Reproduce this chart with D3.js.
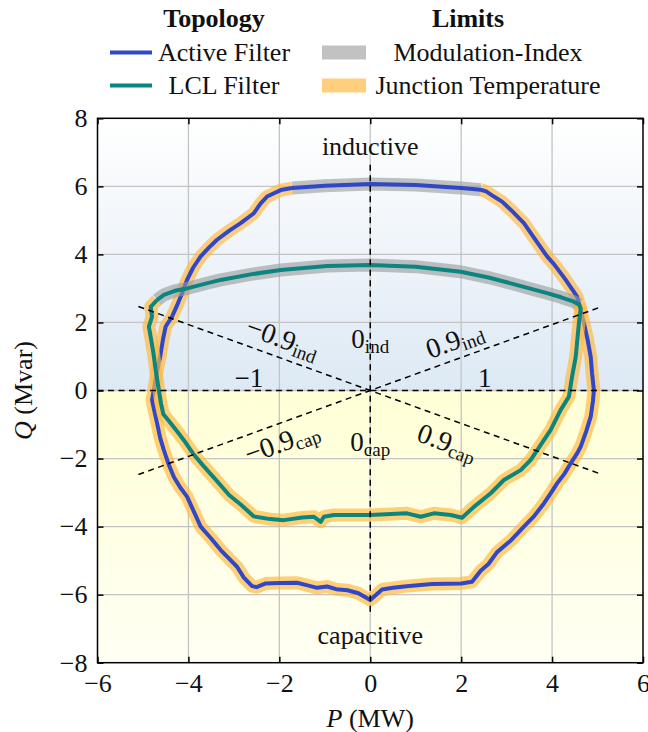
<!DOCTYPE html>
<html>
<head>
<meta charset="utf-8">
<script src="https://cdn.jsdelivr.net/npm/d3@7"></script>
<style>
  body { margin: 0; background: #fff; }
  svg text { font-family: "Liberation Serif", "DejaVu Serif", serif; fill: #111; }
</style>
</head>
<body>
<svg id="chart" width="648" height="732"></svg>
<script>
// axis ticks
const pTicks = [-6, -4, -2, 0, 2, 4, 6];
const qTicks = [-8, -6, -4, -2, 0, 2, 4, 6, 8];

// legend entries
const topologyNames = ["Active Filter", "LCL Filter"];
const limitNames = ["Modulation-Index", "Junction Temperature"];

// Active filter: part limited by modulation index (top arc, left -> right)
const activeMod = [[-1.72, 5.95], [-1.0, 6.02], [0, 6.07], [1.0, 6.04], [2.0, 5.95], [2.43, 5.9]];
// Active filter: part limited by junction temperature (from top-left, round the bottom, to top-right)
const activeTemp = [
  [-1.72, 5.95], [-1.97, 5.89], [-2.27, 5.70], [-2.41, 5.50], [-2.56, 5.21], [-2.85, 4.92],
  [-3.10, 4.70], [-3.37, 4.43], [-3.55, 4.20], [-3.73, 3.94], [-3.90, 3.60], [-4.03, 3.25],
  [-4.14, 2.86], [-4.25, 2.50], [-4.36, 2.17], [-4.50, 1.88], [-4.56, 1.50], [-4.62, 1.00],
  [-4.70, 0.50], [-4.75, 0.10], [-4.80, -0.28], [-4.75, -0.60], [-4.69, -0.96], [-4.62, -1.40],
  [-4.54, -1.75], [-4.44, -2.15], [-4.32, -2.54], [-4.18, -2.85], [-4.03, -3.12], [-3.90, -3.50],
  [-3.73, -4.00], [-3.50, -4.35], [-3.29, -4.69], [-3.10, -4.95], [-2.93, -5.18], [-2.78, -5.50],
  [-2.60, -5.75], [-2.50, -5.78], [-2.30, -5.67], [-2.00, -5.66], [-1.61, -5.65], [-1.40, -5.72],
  [-1.17, -5.80], [-0.95, -5.76], [-0.75, -5.84], [-0.50, -5.87], [-0.26, -5.96], [0, -6.16],
  [0.26, -5.85], [0.50, -5.80], [0.80, -5.75], [1.36, -5.69], [2.00, -5.67], [2.24, -5.62],
  [2.43, -5.30], [2.60, -5.10], [2.79, -4.75], [3.10, -4.40], [3.38, -4.00], [3.60, -3.70],
  [3.82, -3.32], [3.98, -3.00], [4.11, -2.73], [4.27, -2.45], [4.41, -2.14], [4.55, -1.85],
  [4.63, -1.65], [4.75, -1.20], [4.85, -0.77], [4.90, -0.30], [4.92, 0.01], [4.88, 0.50],
  [4.85, 0.99], [4.78, 1.50], [4.70, 1.98], [4.62, 2.40], [4.55, 2.76], [4.48, 2.90],
  [4.30, 3.25], [4.19, 3.45], [4.05, 3.70], [3.89, 3.94], [3.65, 4.40], [3.38, 4.92],
  [3.10, 5.30], [2.90, 5.55], [2.72, 5.70], [2.55, 5.85], [2.43, 5.9]
];

// LCL filter: modulation-index part (upper arc, left -> right)
const lclMod = [
  [-4.69, 2.66], [-4.54, 2.81], [-4.30, 2.93], [-4.03, 3.00], [-3.60, 3.15], [-3.29, 3.25],
  [-2.60, 3.42], [-1.97, 3.54], [-0.95, 3.66], [0, 3.69], [1.00, 3.64], [1.99, 3.49],
  [2.60, 3.32], [3.09, 3.15], [3.50, 3.00], [3.89, 2.86], [4.20, 2.74], [4.48, 2.61], [4.60, 2.52]
];
// LCL filter: junction-temperature part (from upper-left, round the bottom, to upper-right)
const lclTemp = [
  [-4.69, 2.66], [-4.83, 2.46], [-4.80, 2.17], [-4.87, 1.88], [-4.83, 1.58], [-4.77, 1.10],
  [-4.72, 0.60], [-4.65, 0.01], [-4.60, -0.40], [-4.55, -0.70], [-4.39, -0.96], [-4.25, -1.20],
  [-4.10, -1.46], [-3.90, -1.85], [-3.68, -2.20], [-3.40, -2.62], [-3.10, -3.08], [-2.85, -3.35],
  [-2.56, -3.70], [-2.20, -3.78], [-1.90, -3.81], [-1.50, -3.73], [-1.24, -3.71], [-1.09, -3.86],
  [-1.02, -3.71], [-0.80, -3.66], [0, -3.66], [0.81, -3.61], [1.11, -3.71], [1.40, -3.61],
  [1.77, -3.66], [2.02, -3.74], [2.28, -3.42], [2.65, -3.02], [2.94, -2.63], [3.31, -2.34],
  [3.53, -2.04], [3.82, -1.46], [3.97, -1.16], [4.19, -0.57], [4.37, -0.18], [4.44, 0.41],
  [4.52, 0.99], [4.59, 1.98], [4.63, 2.40], [4.60, 2.52]
];

// power-factor reference lines (P, Q end points)
const pfLines = [
  [[-5.1, 2.47], [5.1, -2.47]],
  [[-5.1, -2.47], [5.1, 2.47]],
  [[-6, 0], [6, 0]],
  [[0, -6.5], [0, 6.75]]
];

const colors = {
  active: "#3047c8", lcl: "#0a8580",
  mod: "#9a9a9a", temp: "#ffb840",
  grid: "#c4c4c4"
};

const svg = d3.select("#chart");
const mLeft = 97.5, mRight = 643, mTop = 118.3, mBottom = 662.7;
const x = d3.scaleLinear().domain([-6, 6]).range([mLeft, mRight]);
const y = d3.scaleLinear().domain([-8, 8]).range([mBottom, mTop]);

// background gradients (inductive half bluish, capacitive half yellowish)
const defs = svg.append("defs");
let g1 = defs.append("linearGradient").attr("id", "bgInd")
  .attr("x1", 0).attr("y1", 0).attr("x2", 0).attr("y2", 1);
g1.append("stop").attr("offset", 0).attr("stop-color", "#ffffff");
g1.append("stop").attr("offset", 1).attr("stop-color", "#dde9f4");
let g2 = defs.append("linearGradient").attr("id", "bgCap")
  .attr("x1", 0).attr("y1", 0).attr("x2", 0).attr("y2", 1);
g2.append("stop").attr("offset", 0).attr("stop-color", "#ffffd6");
g2.append("stop").attr("offset", 1).attr("stop-color", "#fffff4");

svg.append("rect").attr("x", x(-6)).attr("y", y(8))
  .attr("width", x(6) - x(-6)).attr("height", y(0) - y(8)).attr("fill", "url(#bgInd)");
svg.append("rect").attr("x", x(-6)).attr("y", y(0))
  .attr("width", x(6) - x(-6)).attr("height", y(-8) - y(0)).attr("fill", "url(#bgCap)");

// grid
svg.append("g").selectAll("line").data(pTicks.slice(1, -1)).enter().append("line")
  .attr("x1", d => x(d)).attr("x2", d => x(d)).attr("y1", mTop).attr("y2", mBottom)
  .attr("stroke", colors.grid).attr("stroke-width", 1.3);
svg.append("g").selectAll("line").data(qTicks.slice(1, -1)).enter().append("line")
  .attr("y1", d => y(d)).attr("y2", d => y(d)).attr("x1", mLeft).attr("x2", mRight)
  .attr("stroke", colors.grid).attr("stroke-width", 1.3);

const line = d3.line().x(d => x(d[0])).y(d => y(d[1]));

// draw one topology: halos for each limit, then the curve itself
let drawCurve = (mod, temp, col) => {
  const g = svg.append("g").attr("fill", "none")
    .attr("stroke-linejoin", "round").attr("stroke-linecap", "butt");
  g.append("path").attr("d", line(mod)).attr("stroke", colors.mod)
    .attr("stroke-width", 13).attr("stroke-opacity", 0.6);
  g.append("path").attr("d", line(temp)).attr("stroke", colors.temp)
    .attr("stroke-width", 13).attr("stroke-opacity", 0.68);
  g.append("path").attr("d", line(temp.concat(mod.slice().reverse())))
    .attr("stroke", col).attr("stroke-width", 4);
};
drawCurve(activeMod, activeTemp, colors.active);
drawCurve(lclMod, lclTemp, colors.lcl);

// dashed power-factor lines
svg.append("g").selectAll("path").data(pfLines).enter().append("path")
  .attr("d", line).attr("fill", "none").attr("stroke", "#000")
  .attr("stroke-width", 1.5).attr("stroke-dasharray", "6,4.5");

// annotations
const ang = Math.atan(0.4843 * (y(0) - y(1)) / (x(1) - x(0))) * 180 / Math.PI;
const notes = [
  {p: 0, q: 7.2, main: "inductive", sub: "", rot: 0, size: 26},
  {p: 0, q: -7.2, main: "capacitive", sub: "", rot: 0, size: 26},
  {p: 0, q: 1.5, main: "0", sub: "ind", rot: 0, size: 27},
  {p: 0, q: -1.5, main: "0", sub: "cap", rot: 0, size: 27},
  {p: -2.67, q: 0.38, main: "−1", sub: "", rot: 0, size: 27},
  {p: 2.52, q: 0.38, main: "1", sub: "", rot: 0, size: 27},
  {p: -1.92, q: 1.55, main: "−0.9", sub: "ind", rot: ang, size: 28},
  {p: 1.85, q: 1.5, main: "0.9", sub: "ind", rot: -ang, size: 28},
  {p: -1.95, q: -1.5, main: "−0.9", sub: "cap", rot: -ang, size: 28},
  {p: 1.7, q: -1.5, main: "0.9", sub: "cap", rot: ang, size: 28}
];
const nt = svg.append("g").selectAll("text").data(notes).enter().append("text")
  .attr("transform", d => `translate(${x(d.p)},${y(d.q)}) rotate(${d.rot})`)
  .attr("text-anchor", "middle").attr("dominant-baseline", "central")
  .attr("font-size", d => d.size);
nt.append("tspan").text(d => d.main);
nt.filter(d => d.sub).append("tspan").attr("font-size", 19).attr("dy", 7).text(d => d.sub);

// frame and ticks (inward on all sides)
svg.append("rect").attr("x", mLeft).attr("y", mTop)
  .attr("width", mRight - mLeft).attr("height", mBottom - mTop)
  .attr("fill", "none").attr("stroke", "#000").attr("stroke-width", 1.5);

const fmt = d => d < 0 ? "−" + Math.abs(d) : String(d);
const axB = svg.append("g").attr("transform", `translate(0,${mBottom})`)
  .call(d3.axisBottom(x).tickValues(pTicks).tickSize(-6).tickPadding(11).tickFormat(fmt));
const axT = svg.append("g").attr("transform", `translate(0,${mTop})`)
  .call(d3.axisTop(x).tickValues(pTicks).tickSize(-6).tickFormat(""));
const axL = svg.append("g").attr("transform", `translate(${mLeft},0)`)
  .call(d3.axisLeft(y).tickValues(qTicks).tickSize(-6).tickPadding(10).tickFormat(fmt));
const axR = svg.append("g").attr("transform", `translate(${mRight},0)`)
  .call(d3.axisRight(y).tickValues(qTicks).tickSize(-6).tickFormat(""));
[axB, axT, axL, axR].forEach(a => {
  a.select(".domain").remove();
  a.selectAll(".tick line").attr("stroke", "#000").attr("stroke-width", 1.5);
  a.selectAll(".tick text").attr("font-family", "Liberation Serif, serif")
    .attr("font-size", 26).attr("fill", "#111");
});
axB.selectAll(".tick text").attr("dy", "0.72em");

// axis titles
const xt = svg.append("text").attr("x", x(0)).attr("y", 727)
  .attr("text-anchor", "middle").attr("font-size", 26);
xt.append("tspan").attr("font-style", "italic").text("P");
xt.append("tspan").text(" (MW)");
const yt = svg.append("text").attr("transform", `translate(32,${y(0)}) rotate(-90)`)
  .attr("text-anchor", "middle").attr("font-size", 26);
yt.append("tspan").attr("font-style", "italic").text("Q");
yt.append("tspan").text(" (Mvar)");

// legend
const leg = svg.append("g");
leg.append("text").attr("x", 214).attr("y", 27).attr("text-anchor", "middle")
  .attr("font-size", 26).attr("font-weight", "bold").text("Topology");
leg.append("text").attr("x", 468).attr("y", 27).attr("text-anchor", "middle")
  .attr("font-size", 26).attr("font-weight", "bold").text("Limits");
const rowY = [52.5, 85.5];
const topoCols = [colors.active, colors.lcl];
leg.selectAll(".topo").data(topologyNames).enter().append("line")
  .attr("x1", 110).attr("x2", 152).attr("y1", (d, i) => rowY[i]).attr("y2", (d, i) => rowY[i])
  .attr("stroke", (d, i) => topoCols[i]).attr("stroke-width", 4);
leg.selectAll(".topoT").data(topologyNames).enter().append("text")
  .attr("x", 224).attr("y", (d, i) => rowY[i] + 8).attr("text-anchor", "middle")
  .attr("font-size", 26).text(d => d);
const limCols = [colors.mod, colors.temp];
const limOp = [0.6, 0.68];
leg.selectAll(".lim").data(limitNames).enter().append("rect")
  .attr("x", 322).attr("y", (d, i) => rowY[i] - 7).attr("width", 44).attr("height", 14)
  .attr("fill", (d, i) => limCols[i]).attr("fill-opacity", (d, i) => limOp[i]);
leg.selectAll(".limT").data(limitNames).enter().append("text")
  .attr("x", 488).attr("y", (d, i) => rowY[i] + 8).attr("text-anchor", "middle")
  .attr("font-size", 26).text(d => d);
</script>
</body>
</html>
